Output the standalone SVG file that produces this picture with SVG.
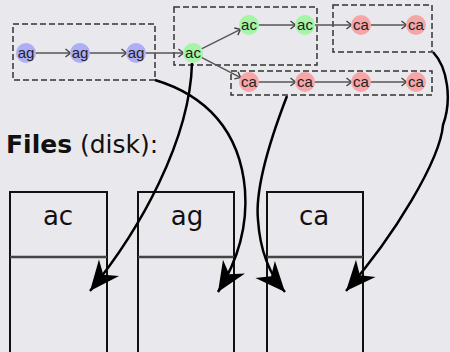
<svg xmlns="http://www.w3.org/2000/svg" width="450" height="352" viewBox="0 0 450 352">
  <style>
    .bg { fill: #e9e8ed; }
    .group { fill: none; stroke: #333; stroke-width: 1.5; stroke-dasharray: 6 3; }
    .node-ag { fill: #aeaef6; }
    .node-ac { fill: #a6f4a6; }
    .node-ca { fill: #f6a6a6; }
    .ntext { font-family: "Liberation Sans", Arial, sans-serif; font-size: 15px; fill: #222; text-anchor: middle; }
    .edge { fill: none; stroke: #555; stroke-width: 1.4; marker-end: url(#chev); }
    .link { fill: none; stroke: #000; stroke-width: 2.5; marker-end: url(#head); }
    .file { fill: none; stroke: #111; stroke-width: 2; }
    .divider { stroke: #444; stroke-width: 2.5; }
    .ftext { font-family: "DejaVu Sans", Verdana, sans-serif; font-size: 26px; fill: #111; text-anchor: middle; }
    .title { font-family: "DejaVu Sans", Verdana, sans-serif; font-size: 25px; fill: #111; }
  </style>
  <defs>
    <marker id="chev" markerUnits="userSpaceOnUse" viewBox="-7 -6 9 12" markerWidth="9" markerHeight="12" refX="0" refY="0" orient="auto" overflow="visible">
      <path d="M-5,-4 L0,0 L-5,4" fill="none" stroke="#444" stroke-width="1.4"/>
    </marker>
    <marker id="head" markerUnits="userSpaceOnUse" viewBox="-32 -14 34 28" markerWidth="34" markerHeight="28" refX="0" refY="0" orient="auto" overflow="visible">
      <path d="M0,0 L-30,-13 L-21,0 L-30,13 Z" fill="#000"/>
    </marker>
  </defs>

  <rect class="bg" x="0" y="0" width="450" height="352"/>

  <!-- dashed groupings -->
  <g id="groups">
    <rect class="group" x="13" y="24" width="142" height="56"/>
    <rect class="group" x="174" y="7" width="143" height="58"/>
    <rect class="group" x="333" y="5" width="99" height="47"/>
    <rect class="group" x="231" y="71" width="201" height="24"/>
  </g>

  <!-- file boxes -->
  <g id="file-ac">
    <rect class="file" x="10" y="192" width="97" height="180"/>
    <line class="divider" x1="10" y1="257" x2="107" y2="257"/>
    <text class="ftext" x="58" y="225">ac</text>
  </g>
  <g id="file-ag">
    <rect class="file" x="138" y="192" width="96" height="180"/>
    <line class="divider" x1="138" y1="257" x2="234" y2="257"/>
    <text class="ftext" x="187" y="225">ag</text>
  </g>
  <g id="file-ca">
    <rect class="file" x="267" y="192" width="96" height="180"/>
    <line class="divider" x1="267" y1="257" x2="363" y2="257"/>
    <text class="ftext" x="314" y="225">ca</text>
  </g>

  <text id="files-label" class="title" x="6" y="153"><tspan font-weight="bold">Files</tspan><tspan x="80">(disk):</tspan></text>

  <!-- chain edges -->
  <g id="connectors">
    <path class="edge" d="M35.5,53 L70.5,53"/>
    <path class="edge" d="M89.5,53 L126.5,53"/>
    <path class="edge" d="M145.5,53 L183.5,53"/>
    <path class="edge" d="M201.5,48.8 L240.5,29.3"/>
    <path class="edge" d="M201.4,57.4 L240.6,77.6"/>
    <path class="edge" d="M258.5,25 L295.5,25"/>
    <path class="edge" d="M314.5,25 L351.5,25"/>
    <path class="edge" d="M370.5,25 L406.5,25"/>
    <path class="edge" d="M258.5,82 L295.5,82"/>
    <path class="edge" d="M314.5,82 L351.5,82"/>
    <path class="edge" d="M370.5,82 L406.5,82"/>

    <!-- links to files -->
    <path class="link" d="M192,63 C190,140 140,230 90,291"/>
    <path class="link" d="M155,80 C205,95 240,130 245,190 C248,230 235,265 218,292"/>
    <path class="link" d="M287,96 C270,140 255,190 258,220 C260,250 270,275 285,292"/>
    <path class="link" d="M433,52 C448,68 452,100 443,125 C440,160 395,235 346,291"/>
  </g>

  <!-- nodes -->
  <g id="n-ag1"><circle class="node-ag" cx="26" cy="53" r="10"/><text class="ntext" x="26" y="58">ag</text></g>
  <g id="n-ag2"><circle class="node-ag" cx="80" cy="53" r="10"/><text class="ntext" x="80" y="58">ag</text></g>
  <g id="n-ag3"><circle class="node-ag" cx="136" cy="53" r="10"/><text class="ntext" x="136" y="58">ag</text></g>
  <g id="n-ac1"><circle class="node-ac" cx="193" cy="53" r="10"/><text class="ntext" x="193" y="58">ac</text></g>
  <g id="n-ac2"><circle class="node-ac" cx="249" cy="25" r="10"/><text class="ntext" x="249" y="30">ac</text></g>
  <g id="n-ac3"><circle class="node-ac" cx="305" cy="25" r="10"/><text class="ntext" x="305" y="30">ac</text></g>
  <g id="n-ca1"><circle class="node-ca" cx="361" cy="25" r="10"/><text class="ntext" x="361" y="30">ca</text></g>
  <g id="n-ca2"><circle class="node-ca" cx="416" cy="25" r="10"/><text class="ntext" x="416" y="30">ca</text></g>
  <g id="n-ca3"><circle class="node-ca" cx="249" cy="82" r="10"/><text class="ntext" x="249" y="87">ca</text></g>
  <g id="n-ca4"><circle class="node-ca" cx="305" cy="82" r="10"/><text class="ntext" x="305" y="87">ca</text></g>
  <g id="n-ca5"><circle class="node-ca" cx="361" cy="82" r="10"/><text class="ntext" x="361" y="87">ca</text></g>
  <g id="n-ca6"><circle class="node-ca" cx="416" cy="82" r="10"/><text class="ntext" x="416" y="87">ca</text></g>
</svg>
